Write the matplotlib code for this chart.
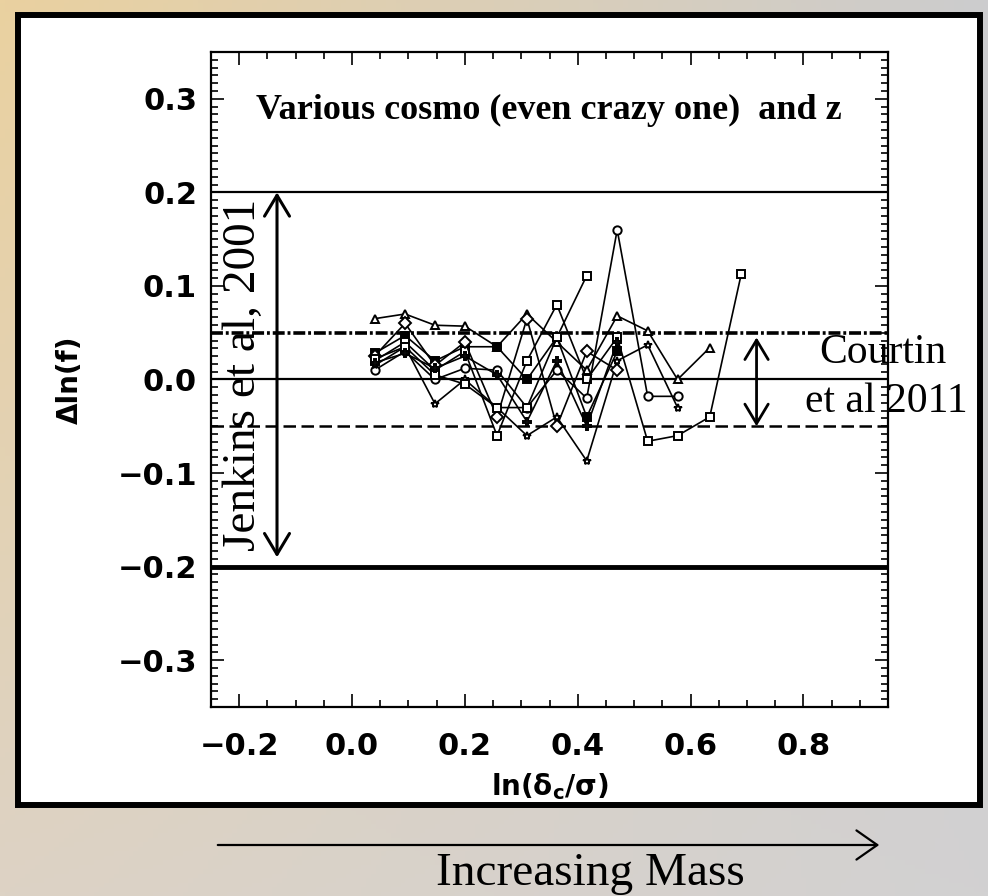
import matplotlib.pyplot as plt
import numpy as np
from matplotlib.patches import Rectangle, FancyArrowPatch
from matplotlib.ticker import MultipleLocator

# ln(delta_c/sigma) grid where the runs were sampled
mass_x = [0.040, 0.094, 0.147, 0.200, 0.257, 0.310, 0.363, 0.416, 0.470, 0.524, 0.577, 0.634, 0.690]

# Delta ln(f) for each run
run_tri = [0.065, 0.070, 0.058, 0.057, 0.035, 0.070, 0.040, 0.010, 0.068, 0.052, 0.000, 0.034]
run_fsq = [0.028, 0.047, 0.020, 0.035, 0.035, 0.000, 0.045, -0.040, 0.030]
run_osq = [0.020, 0.040, 0.010, 0.030, -0.060, 0.020, 0.080, 0.000, 0.045, -0.066, -0.060, -0.040, 0.113]
run_circ = [0.010, 0.030, 0.000, 0.012, 0.010, -0.030, 0.010, -0.020, 0.160, -0.018, -0.018]
run_star = [0.015, 0.035, -0.026, 0.000, -0.030, -0.060, -0.040, -0.087, 0.020, 0.037, -0.030]
run_diam = [0.025, 0.060, 0.015, 0.040, -0.040, 0.065, -0.050, 0.030, 0.010]
run_sq2 = [0.022, 0.035, 0.005, -0.005, -0.030, -0.030, 0.045, 0.111]
run_plus = [0.018, 0.028, 0.012, 0.025, 0.005, -0.045, 0.020, -0.050, 0.040]

runs = [
    (run_tri, '^', 'white'),
    (run_fsq, 's', 'black'),
    (run_osq, 's', 'white'),
    (run_circ, 'o', 'white'),
    (run_star, '*', 'white'),
    (run_diam, 'D', 'white'),
    (run_sq2, 's', 'white'),
    (run_plus, 'P', 'white'),
]

# reference levels
jenkins_band = 0.2
courtin_band = 0.05

x_ticks = [-0.2, 0.0, 0.2, 0.4, 0.6, 0.8]
y_ticks = [-0.3, -0.2, -0.1, 0.0, 0.1, 0.2, 0.3]

plt.rcParams['mathtext.fontset'] = 'custom'
plt.rcParams['mathtext.rm'] = 'DejaVu Sans:bold'
plt.rcParams['mathtext.it'] = 'DejaVu Sans:bold'
plt.rcParams['mathtext.bf'] = 'DejaVu Sans:bold'

W, H = 988, 896
fig = plt.figure(figsize=(W / 100, H / 100), dpi=100)


def fx(px):
    return px / W


def fy(py):
    return 1 - py / H


# slide background: tan on the left fading to grey on the right
bg = fig.add_axes([0, 0, 1, 1], zorder=-10)
u = np.linspace(0, 1, 200)[None, :, None]
v = np.linspace(0, 1, 200)[:, None, None]
tl = np.array([234, 209, 160]) / 255
tr = np.array([204, 204, 206]) / 255
bl = np.array([221, 211, 197]) / 255
br = np.array([210, 209, 210]) / 255
img = (1 - v) * ((1 - u) * tl + u * tr) + v * ((1 - u) * bl + u * br)
bg.imshow(img, aspect='auto', extent=[0, 1, 0, 1])
bg.axis('off')

box = Rectangle((fx(18), fy(805)), fx(980) - fx(18), fy(15) - fy(805),
                transform=fig.transFigure, facecolor='white', edgecolor='black',
                lw=4.3, zorder=-5)
fig.patches.append(box)

ax = fig.add_axes([fx(211), fy(707), fx(888) - fx(211), fy(52) - fy(707)])

ax.axhline(jenkins_band, color='k', lw=1.6)
ax.axhline(0.0, color='k', lw=1.6)
ax.axhline(-jenkins_band, color='k', lw=3.5)
ax.axhline(courtin_band, color='k', lw=2.6, linestyle=(0, (3.3, 0.8, 0.8, 0.8)))
ax.axhline(-courtin_band, color='k', lw=1.8, linestyle=(0, (5, 2.2)))

for ys, m, fc in runs:
    ax.plot(mass_x[:len(ys)], ys, color='k', lw=1.2, marker=m, ms=6,
            mfc=fc, mec='k', mew=1.4)

ax.set_xlim(-0.25, 0.95)
ax.set_ylim(-0.35, 0.35)
ax.set_xticks(x_ticks)
ax.set_yticks(y_ticks)
ax.xaxis.set_minor_locator(MultipleLocator(0.05))
ax.yaxis.set_minor_locator(MultipleLocator(0.1 / 12))
ax.tick_params(which='both', direction='in', top=True, right=True, width=1.2)
ax.tick_params(which='major', length=9.5, labelsize=22)
ax.tick_params(which='minor', length=5)
ax.tick_params(axis='x', pad=18)
ax.tick_params(axis='y', pad=10)
for lab in ax.get_xticklabels() + ax.get_yticklabels():
    lab.set_fontweight('bold')
for s in ax.spines.values():
    s.set_linewidth(1.6)

ax.set_xlabel(r'$\mathrm{ln}(\delta_\mathrm{c}/\sigma)$', fontsize=20, labelpad=7)
ax.set_ylabel('Δln(f)', fontsize=20, fontweight='bold', labelpad=24)

serif = 'Liberation Serif'
fig.text(fx(256), fy(110), 'Various cosmo (even crazy one)  and z', ha='left',
         va='center', fontsize=26, fontweight='bold', family=serif)

# Jenkins et al 2001 band
ax.annotate('', xy=(-0.133, jenkins_band), xytext=(-0.133, -0.19),
            arrowprops=dict(arrowstyle='<->,head_length=0.5,head_width=0.3',
                            lw=2.2, mutation_scale=30, shrinkA=0, shrinkB=0))
fig.text(fx(244), fy(375), 'Jenkins et al, 2001', rotation=90, ha='center',
         va='center', fontsize=34, family=serif)

# Courtin et al 2011 band
ax.annotate('', xy=(0.717, 0.045), xytext=(0.717, -courtin_band),
            arrowprops=dict(arrowstyle='<->,head_length=0.5,head_width=0.3',
                            lw=2.0, mutation_scale=28, shrinkA=0, shrinkB=0))
fig.text(fx(883), fy(353), 'Courtin', ha='center', va='center', fontsize=30, family=serif)
fig.text(fx(886), fy(402), 'et al 2011', ha='center', va='center', fontsize=30, family=serif)

# increasing mass arrow below the frame
arr = FancyArrowPatch((fx(215), fy(845)), (fx(882), fy(845)), transform=fig.transFigure,
                      arrowstyle='->,head_length=0.5,head_width=0.35', mutation_scale=30,
                      lw=1.6, color='k')
fig.patches.append(arr)
fig.text(fx(590), fy(874), 'Increasing Mass', ha='center', va='center', fontsize=34, family=serif)

fig.savefig('out.png', dpi=100)
